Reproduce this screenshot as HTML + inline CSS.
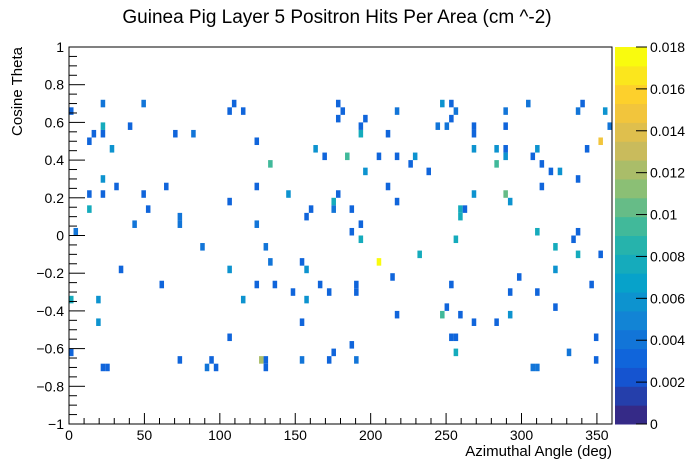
<!DOCTYPE html>
<html><head><meta charset="utf-8"><style>
body{margin:0;background:#fff;}
svg{display:block;font-family:"Liberation Sans",sans-serif;}
</style></head><body>
<svg id="chart" width="696" height="472" viewBox="0 0 696 472" xmlns="http://www.w3.org/2000/svg">
<rect width="696" height="472" fill="#fff"/>
<text x="337" y="23" font-size="19" text-anchor="middle">Guinea Pig Layer 5 Positron Hits Per Area (cm ^-2)</text>
<g id="cells"></g>
<g id="axes"></g>
<text x="612" y="456" font-size="15" text-anchor="end">Azimuthal Angle (deg)</text>
<text transform="translate(22,47) rotate(-90)" font-size="15" text-anchor="end">Cosine Theta</text>
<g id="zaxis"></g>
</svg>
<script>
const D=0.0029,M=0.0042,C=0.0062,T=0.0076,G=0.0095,L=0.0105,O=0.0125,Y0=0.0147,Y=0.0179;
const angles=[22.3,49.3,109.2,178.2,1.8,106.3,115.6,178.2,22.3,40.3,17.9,23.9,70.5,82.4,13.5,124.5,28.3,163.3,169.3,133.5,22.3,31.4,64.5,124.5,13.5,22.3,49.3,145.4,178.2,106.3,175.3,13.5,52.6,160.3,175.3,157.4,73.6,73.6,43.3,124.5,4.4,88.4,130.4,
247.8,253.8,304.6,340.6,181.5,217.3,256.6,289.3,337.5,355.2,196.5,253.8,193.4,245.8,250.8,268.6,289.3,358.3,193.4,211.3,268.6,352.3,268.6,283.4,289.3,310.6,343.5,184.5,205.6,217.3,229.4,289.3,307.7,226.3,283.4,313.7,196.5,238.3,319.4,325.6,337.5,211.3,313.7,268.6,289.3,217.3,292.4,187.5,259.7,262.6,259.7,193.4,187.5,310.6,337.5,193.4,256.6,334.4,322.5,
133.5,154.3,34.3,106.3,157.4,61.7,124.5,136.4,166.2,148.3,172.2,1.8,19.4,115.6,157.4,19.4,154.3,106.3,1.8,175.3,73.6,94.6,127.5,130.4,130.4,154.3,172.2,22,25,91.3,97.3,
232.3,337.5,352.3,205.6,322.5,214.4,298.6,190.4,253.5,346.4,190.4,292.4,310.6,250.5,322.5,217.3,247.6,259.5,292.4,268.6,283.4,252,255,349.4,187.5,256.6,331.6,190.4,349.4,306.4,309.4];
const cosines=[.70,.70,.70,.70,.66,.66,.66,.62,.58,.58,.54,.54,.54,.54,.50,.50,.46,.46,.42,.38,.30,.26,.26,.26,.22,.22,.22,.22,.22,.18,.18,.14,.14,.14,.14,.10,.10,.06,.06,.06,.02,-.06,-.06,
.70,.70,.70,.70,.66,.66,.66,.66,.66,.66,.62,.62,.58,.58,.58,.58,.58,.58,.54,.54,.54,.50,.46,.46,.46,.46,.46,.42,.42,.42,.42,.42,.42,.38,.38,.38,.34,.34,.34,.34,.30,.26,.26,.22,.22,.18,.18,.14,.14,.14,.10,.06,.02,.02,.02,-.02,-.02,-.02,-.06,
-.14,-.14,-.18,-.18,-.18,-.26,-.26,-.26,-.26,-.30,-.30,-.34,-.34,-.34,-.34,-.46,-.46,-.54,-.62,-.62,-.66,-.66,-.66,-.66,-.70,-.66,-.66,-.70,-.70,-.70,-.70,
-.10,-.10,-.10,-.14,-.18,-.22,-.22,-.26,-.26,-.26,-.30,-.30,-.30,-.38,-.38,-.42,-.42,-.42,-.42,-.46,-.46,-.54,-.54,-.54,-.58,-.62,-.62,-.66,-.66,-.70,-.70];
const values=[M,M,D,D,D,D,D,D,T,D,D,D,D,M,D,D,C,C,D,G,C,D,D,D,D,D,D,C,D,D,T,T,D,D,M,D,M,M,M,M,M,M,M,
C,D,M,D,D,M,M,M,M,C,D,D,D,M,M,D,D,M,T,D,D,Y0,C,C,D,C,D,G,D,D,C,C,D,D,G,D,C,D,D,C,D,D,D,C,L,D,C,D,T,D,T,D,D,T,D,T,T,D,T,
M,D,D,C,C,D,D,D,D,D,D,T,C,C,C,C,D,D,D,D,D,D,O,D,D,M,D,D,D,M,D,
T,T,D,Y,C,D,D,D,D,D,D,D,D,D,D,D,G,D,C,D,D,D,D,D,D,T,M,M,D,M,M];
const xTicks=[0,50,100,150,200,250,300,350];
const yTicks=[-1,-0.8,-0.6,-0.4,-0.2,0,0.2,0.4,0.6,0.8,1];
const yTickLabels=["−1","−0.8","−0.6","−0.4","−0.2","0","0.2","0.4","0.6","0.8","1"];
const zTicks=[0,0.002,0.004,0.006,0.008,0.01,0.012,0.014,0.016,0.018];
const zTickLabels=["0","0.002","0.004","0.006","0.008","0.01","0.012","0.014","0.016","0.018"];

const L0=69,R0=612,T0=47,B0=424,ZMAX=0.018,NB=20;
const sx=d=>L0+(d/360)*(R0-L0);
const sy=c=>B0-((c+1)/2)*(B0-T0);
const NS="http://www.w3.org/2000/svg";
const st=[0,.125,.25,.375,.5,.625,.75,.875,1];
const rr=[0.2082,0.0592,0.0780,0.0232,0.1802,0.5301,0.8186,0.9956,0.9764];
const gg=[0.1664,0.3599,0.5041,0.6419,0.7178,0.7492,0.7328,0.7862,0.9832];
const bb=[0.5293,0.8684,0.8385,0.7914,0.6425,0.4662,0.3499,0.1968,0.0539];
function bird(t){let i=0;while(i<7&&t>st[i+1])i++;const f=(t-st[i])/(st[i+1]-st[i]);
 const c=a=>Math.round(255*(a[i]+(a[i+1]-a[i])*f));return `rgb(${c(rr)},${c(gg)},${c(bb)})`;}
const bandColor=b=>bird(b/(NB-1));
function colorOf(v){let b=Math.floor(v/ZMAX*NB);b=Math.max(0,Math.min(NB-1,b));return bandColor(b);}
function el(tag,attrs,parent){const e=document.createElementNS(NS,tag);for(const k in attrs)e.setAttribute(k,attrs[k]);parent.appendChild(e);return e;}

const cells=document.getElementById('cells');
for(let i=0;i<angles.length;i++){
 const ix=Math.floor(angles[i]/3), iy=Math.floor((cosines[i]+1)/0.04+1e-6);
 const x0=sx(ix*3),x1=sx(ix*3+3),y1=sy(-1+iy*0.04),y0=sy(-1+(iy+1)*0.04);
 const r=el('rect',{x:x0,y:y0,width:x1-x0,height:y1-y0,fill:colorOf(values[i])},cells);
 
 
}
const ax=document.getElementById('axes');
el('rect',{x:L0,y:T0,width:R0-L0,height:B0-T0,fill:'none',stroke:'#000','stroke-width':1},ax);
for(let d=0;d<=360;d+=10){const big=d%50===0;el('line',{x1:sx(d),x2:sx(d),y1:B0,y2:B0-(big?11:6),stroke:'#000'},ax);}
xTicks.forEach(d=>{const t=el('text',{x:sx(d),y:B0+16,'font-size':14,'text-anchor':'middle'},ax);t.textContent=d;
 
 });
for(let k=0;k<=40;k++){const c=-1+k*0.05;const big=k%4===0;el('line',{x1:L0,x2:L0+(big?16:8),y1:sy(c),y2:sy(c),stroke:'#000'},ax);}
yTicks.forEach((c,i)=>{const t=el('text',{x:L0-5,y:sy(c)+5,'font-size':14,'text-anchor':'end'},ax);t.textContent=yTickLabels[i];
 
 });
const z=document.getElementById('zaxis');
const ZL=615,ZR=647;
for(let b=0;b<NB;b++){const y0=B0-(b+1)/NB*(B0-T0),y1=B0-b/NB*(B0-T0);
 const r=el('rect',{x:ZL,y:y0,width:ZR-ZL,height:y1-y0+0.5,fill:bandColor(b)},z);
 
 }
zTicks.forEach((v,i)=>{const y=B0-v/ZMAX*(B0-T0);el('line',{x1:ZR-11,x2:ZR,y1:y,y2:y,stroke:'#000'},z);
 const t=el('text',{x:ZR+3,y:y+5,'font-size':14},z);t.textContent=zTickLabels[i];
 
 });
</script>
</body></html>
